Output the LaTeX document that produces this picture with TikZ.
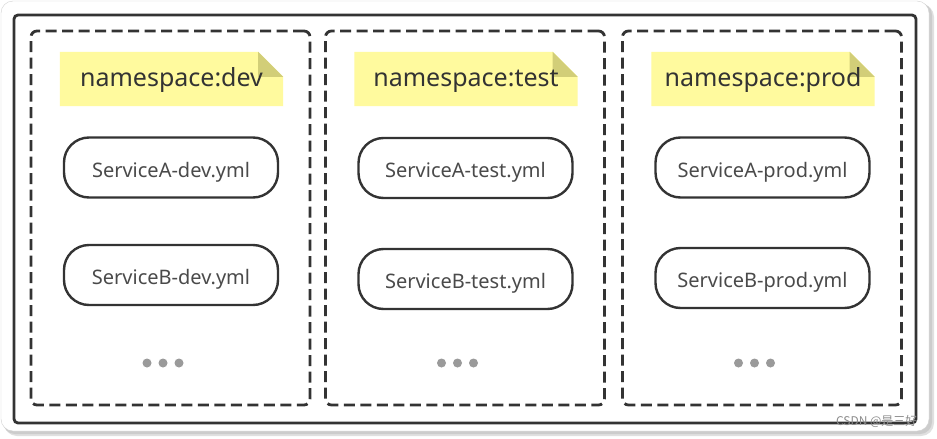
\documentclass[tikz,border=0pt]{standalone}
\usepackage{fontspec}
\setmainfont{Noto Sans}
\newfontfamily\cjk{Noto Sans CJK SC}
\definecolor{lineC}{HTML}{333333}
\definecolor{noteY}{HTML}{FFFA9E}
\definecolor{foldY}{HTML}{D2CE78}
\definecolor{txtC}{HTML}{4A4A4A}
\definecolor{dotC}{HTML}{9A9A9A}
\begin{document}
\begin{tikzpicture}[x=1pt,y=-1pt,
  outerbox/.style={draw=lineC,line width=2.8pt,rounded corners=4pt},
  panelbox/.style={draw=lineC,line width=2.8pt,dash pattern=on 11pt off 5.5pt,rounded corners=6pt,minimum width=279pt,minimum height=374pt,inner sep=0pt},
  notebox/.style={minimum width=223pt,minimum height=54pt,inner sep=0pt},
  notetext/.style={inner sep=0pt,text=lineC,font=\fontsize{25}{29}\selectfont,text height=15.4pt,text depth=0pt},
  svcbox/.style={draw=lineC,line width=2.4pt,rounded corners=25pt,minimum width=214pt,minimum height=60pt,inner sep=0pt,text=txtC,font=\fontsize{20}{24}\selectfont,text height=19pt,text depth=0pt},
  dotbox/.style={circle,fill=dotC,minimum size=9pt,inner sep=0pt}]
\useasboundingbox (0,0) rectangle (937,439);
\fill[white] (0,0) rectangle (937,439);
% card shadow and card
\fill[black!12,rounded corners=13pt] (4,4) rectangle (934,436);
\fill[black!20,rounded corners=12pt] (3,3) rectangle (932,434);
\draw[black!18,fill=white,rounded corners=12pt] (1,1) rectangle (929,431);
\draw[outerbox] (14,15) rectangle (916,423);
% panels
\foreach \i/\cx/\ns/\ya/\yb in {1/170.5/dev/167.5/275, 2/465/test/168/279, 3/762/prod/167.5/278}{
  \node[panelbox] (p\i) at (\cx,218) {};
  \node[notebox] (n\i) at (\cx+1,79) {};
  \fill[noteY] (n\i.north west) -- ([xshift=-25pt]n\i.north east) -- ([yshift=-25pt]n\i.north east) -- (n\i.south east) -- (n\i.south west) -- cycle;
  \fill[foldY] ([xshift=-25pt]n\i.north east) -- ([yshift=-25pt]n\i.north east) -- ([xshift=-25pt,yshift=-25pt]n\i.north east) -- cycle;
  \node[notetext] (t\i) at (n\i) {namespace:\ns};
  \node[svcbox] (a\i) at (\cx+0.5,\ya) {ServiceA-\ns.yml};
  \node[svcbox] (b\i) at (\cx+0.5,\yb) {ServiceB-\ns.yml};
  \node[dotbox] (d\i b) at (\cx-7.5,363) {};
  \node[dotbox] (d\i a) at ([xshift=-16pt]d\i b) {};
  \node[dotbox] (d\i c) at ([xshift=16pt]d\i b) {};
}
\node[text=black!45,font=\cjk\fontsize{12}{14}\selectfont,anchor=east] (wm) at (921,421) {CSDN @是三好};
\end{tikzpicture}
\end{document}
